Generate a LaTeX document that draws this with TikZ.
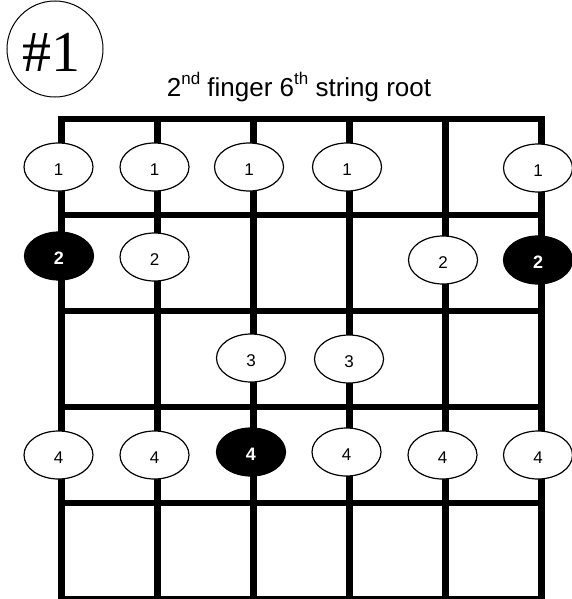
\documentclass[tikz,border=0pt]{standalone}
\usepackage{fontspec}
\setmainfont{Liberation Sans}
\newfontfamily\serifnum{Liberation Serif}
\usetikzlibrary{shapes.geometric}
\begin{document}
\begin{tikzpicture}[x=1pt,y=-1pt,
  fret/.style={line width=5.5pt},
  strg/.style={line width=7pt},
  fing/.style={draw, ellipse, line width=1.2pt, fill=white, minimum width=69pt, minimum height=48pt,
    inner sep=0pt, text height=17.5pt, text depth=0pt, font=\fontsize{17}{17}\selectfont},
  root/.style={fing, fill=black, text=white, font=\fontsize{18}{18}\selectfont\bfseries}]
\useasboundingbox (0,0) rectangle (572,599);
% badge
\node[draw, circle, minimum size=96pt, line width=1pt] (badge) at (55,49) {};
\node[anchor=base, inner sep=0pt] (badgetext) at (51,72) {\serifnum\fontsize{58}{58}\selectfont \#1};
% title
\node[anchor=base, inner sep=0pt, font=\fontsize{26}{26}\selectfont] (title) at (299,97)
  {2\raisebox{12pt}{\fontsize{17}{17}\selectfont nd} finger 6\raisebox{12pt}{\fontsize{17}{17}\selectfont th} string root};
% grid
\foreach \k in {0,...,5} \draw[fret] (57.5,{119+96*\k}) -- (544.5,{119+96*\k});
\foreach \i in {0,...,5} \draw[strg] ({61+96*\i},116.5) -- ({61+96*\i},602);
% fingers
\node[fing] (a1) at (58.5,167) {1};
\node[fing] (a2) at (154.5,167) {1};
\node[fing] (a3) at (249,167) {1};
\node[fing] (a4) at (347,167) {1};
\node[fing] (a6) at (538,168) {1};
\node[root] (b1) at (59,256) {2};
\node[fing] (b2) at (154.5,257) {2};
\node[fing] (b5) at (443,260) {2};
\node[root] (b6) at (538,260) {2};
\node[fing] (c3) at (251,358) {3};
\node[fing] (c4) at (349,359) {3};
\node[fing] (d1) at (58.5,455) {4};
\node[fing] (d2) at (154.5,455) {4};
\node[root] (d3) at (251,452) {4};
\node[fing] (d4) at (346.5,452) {4};
\node[fing] (d5) at (442.5,455) {4};
\node[fing] (d6) at (538,455) {4};
\end{tikzpicture}
\end{document}
